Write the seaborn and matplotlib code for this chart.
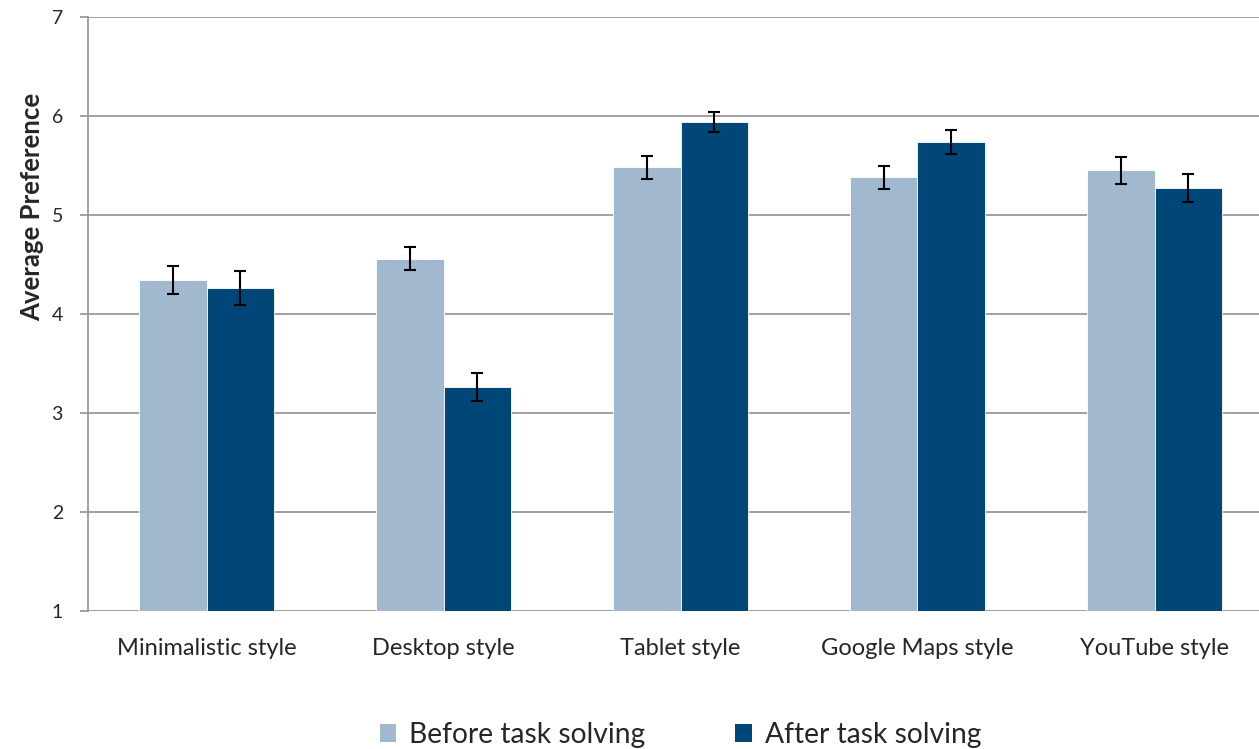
import matplotlib
matplotlib.use("Agg")
import matplotlib.pyplot as plt
import seaborn as sns
import pandas as pd
from matplotlib.patches import Patch

# Values
categories = ["Minimalistic style", "Desktop style", "Tablet style",
              "Google Maps style", "YouTube style"]
before = [4.34, 4.56, 5.48, 5.38, 5.45]
after = [4.26, 3.26, 5.94, 5.74, 5.27]
before_err = [0.14, 0.12, 0.12, 0.12, 0.14]
after_err = [0.17, 0.14, 0.10, 0.12, 0.14]
series = ["Before task solving", "After task solving"]
colors = ["#A2B8CF", "#004677"]

df = pd.DataFrame({
    "category": categories * 2,
    "value": before + after,
    "phase": [series[0]] * len(categories) + [series[1]] * len(categories),
})
errs = {series[0]: before_err, series[1]: after_err}

sns.set_style("white")
plt.rcParams["font.family"] = ["Lato", "DejaVu Sans"]

fig = plt.figure(figsize=(12.59, 7.49), dpi=100)
ax = fig.add_axes([88 / 1259, 138 / 749, 1185 / 1259, 594 / 749])

sns.barplot(data=df, x="category", y="value", hue="phase", hue_order=series,
            palette=colors, width=0.57, ax=ax, errorbar=None, legend=False,
            saturation=1, edgecolor="white", linewidth=0.6)

for name, cont in zip(series, ax.containers):
    xs = [p.get_x() + p.get_width() / 2 for p in cont.patches]
    ys = [p.get_height() for p in cont.patches]
    ax.errorbar(xs, ys, yerr=errs[name], fmt="none", ecolor="black",
                elinewidth=1.5, capsize=4.5, capthick=1.5, zorder=5)

ax.set_ylim(1, 7)
ax.set_yticks(range(1, 8))
ax.set_xlim(-0.5, len(categories) - 0.5)
ax.yaxis.grid(True, color="#999999", linewidth=1.3)
ax.set_axisbelow(True)
for s in ["top", "right", "bottom"]:
    ax.spines[s].set_visible(False)
ax.spines["left"].set_color("#999999")
ax.spines["left"].set_linewidth(1.3)
ax.tick_params(axis="y", left=True, length=6, width=1.3, color="#999999",
               labelsize=14, pad=12)
ax.tick_params(axis="x", bottom=False, labelsize=17, pad=16)
ax.set_xlabel("")
ax.set_ylabel("Average Preference", fontsize=18.5, fontweight="bold")
ax.yaxis.set_label_coords(-0.037, 0.68)

handles = [Patch(facecolor=c, edgecolor="none") for c in colors]
ax.legend(handles, series, loc="center", bbox_to_anchor=(0.5, -0.209),
          ncol=2, frameon=False, fontsize=20.3, handlelength=0.6,
          handleheight=0.6, handletextpad=0.45, columnspacing=3.2)

fig.savefig("out.png", dpi=100)
